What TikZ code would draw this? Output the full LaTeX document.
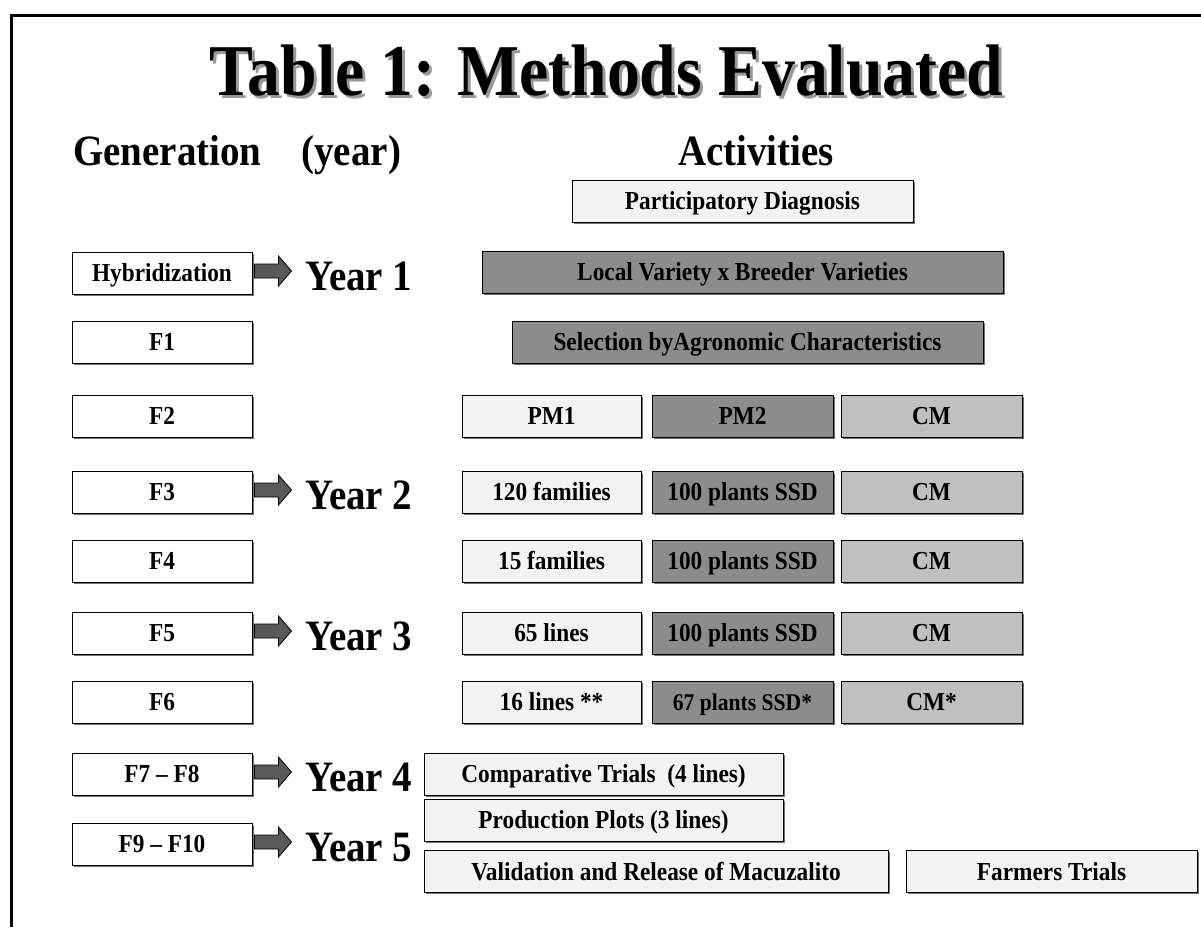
\documentclass[tikz,border=0pt]{standalone}
\usepackage{fontspec}
\setmainfont{Liberation Serif}[FakeStretch=0.9]
\usetikzlibrary{shadows}
\definecolor{lightfill}{HTML}{F2F2F2}
\definecolor{darkfill}{HTML}{8C8C8C}
\definecolor{midfill}{HTML}{C0C0C0}
\definecolor{arrowfill}{HTML}{595959}
\newcommand{\blockarr}[1]{\draw[blockarrow] ([shift={(2,-9)}]#1.east) -- ++(24,0) -- ++(0,-8) -- ++(13,15) -- ++(-13,15) -- ++(0,-8) -- ++(-24,0) -- cycle;}
\begin{document}
\begin{tikzpicture}[x=1pt,y=-1pt,
  box/.style={draw=black, line width=1pt, inner sep=0pt, minimum height=42pt,
    text height=17pt, text depth=0pt,
    font=\fontsize{25.9}{28}\selectfont\bfseries,
    drop shadow={shadow xshift=1.5pt, shadow yshift=-1.5pt, fill=black!55, opacity=1}},
  genbox/.style={box, fill=white, minimum width=180pt},
  lightbox/.style={box, fill=lightfill},
  darkbox/.style={box, fill=darkfill},
  midbox/.style={box, fill=midfill},
  heading/.style={font=\fontsize{43.3}{48}\selectfont\bfseries, inner sep=0pt},
  yearlbl/.style={font=\fontsize{43.3}{48}\selectfont\bfseries, inner sep=0pt, anchor=base west},
  titlefont/.style={font=\fontsize{73}{80}\selectfont\bfseries, inner sep=0pt, anchor=base},
  blockarrow/.style={draw=black, line width=0.8pt, fill=arrowfill, line join=miter}
]
\useasboundingbox (0,0) rectangle (1201,927);
\fill[white] (0,0) rectangle (1201,927);
% frame
\draw[line width=3pt] (11.5,927) -- (11.5,15.5) -- (1201,15.5);

% title with shadow
\node[titlefont, text=black!40] (titleshadow) at (609.5,98) {Table 1: Methods Evaluated};
\node[titlefont] (title) at (606.5,95) {Table 1: Methods Evaluated};

% headings
\node[heading, anchor=base west] (genhead) at (73,165) {Generation\hspace{40pt}(year)};
\node[heading, anchor=base] (acthead) at (756,165) {Activities};

% left column
\node[genbox] (hyb) at (162,273) {Hybridization};
\node[genbox] (f1) at (162,342) {F1};
\node[genbox] (f2) at (162,416) {F2};
\node[genbox] (f3) at (162,492) {F3};
\node[genbox] (f4) at (162,561) {F4};
\node[genbox] (f5) at (162,633) {F5};
\node[genbox] (f6) at (162,702) {F6};
\node[genbox] (f78) at (162,774) {F7 -- F8};
\node[genbox] (f910) at (162,844) {F9 -- F10};

% year labels
\node[yearlbl] (y1) at (305,290) {Year 1};
\node[yearlbl] (y2) at (305,509) {Year 2};
\node[yearlbl] (y3) at (305,650) {Year 3};
\node[yearlbl] (y4) at (305,791) {Year 4};
\node[yearlbl] (y5) at (305,861) {Year 5};

% block arrows
\blockarr{hyb}
\blockarr{f3}
\blockarr{f5}
\blockarr{f78}
\blockarr{f910}

% activities
\node[lightbox, minimum width=341pt] (pd) at (742.5,201) {Participatory Diagnosis};
\node[darkbox, minimum width=521pt] (lv) at (742.5,272) {Local Variety x Breeder Varieties};
\node[darkbox, minimum width=471pt] (sel) at (747.5,342) {Selection byAgronomic Characteristics};

\node[lightbox, minimum width=179pt] (pm1) at (551.5,416) {PM1};
\node[darkbox, minimum width=181pt] (pm2) at (742.5,416) {PM2};
\node[midbox, minimum width=181pt] (cm2) at (931.5,416) {CM};

\node[lightbox, minimum width=179pt] (fam120) at (551.5,492) {120 families};
\node[darkbox, minimum width=181pt] (ssd3) at (742.5,492) {100 plants SSD};
\node[midbox, minimum width=181pt] (cm3) at (931.5,492) {CM};

\node[lightbox, minimum width=179pt] (fam15) at (551.5,561) {15 families};
\node[darkbox, minimum width=181pt] (ssd4) at (742.5,561) {100 plants SSD};
\node[midbox, minimum width=181pt] (cm4) at (931.5,561) {CM};

\node[lightbox, minimum width=179pt] (lines65) at (551.5,633) {65 lines};
\node[darkbox, minimum width=181pt] (ssd5) at (742.5,633) {100 plants SSD};
\node[midbox, minimum width=181pt] (cm5) at (931.5,633) {CM};

\node[lightbox, minimum width=179pt] (lines16) at (551.5,702) {16 lines **};
\node[darkbox, minimum width=181pt, font=\fontsize{24}{26}\selectfont\bfseries] (ssd6) at (742.5,702) {67 plants SSD*};
\node[midbox, minimum width=181pt] (cm6) at (931.5,702) {CM*};

\node[lightbox, minimum width=359pt] (comp) at (603.5,774) {Comparative Trials\ \ (4 lines)};
\node[lightbox, minimum width=359pt] (prod) at (603.5,820) {Production Plots (3 lines)};
\node[lightbox, minimum width=464pt] (valid) at (656,871.5) {Validation and Release of Macuzalito};
\node[lightbox, minimum width=291pt] (farm) at (1051.5,871.5) {Farmers Trials};
\end{tikzpicture}
\end{document}
